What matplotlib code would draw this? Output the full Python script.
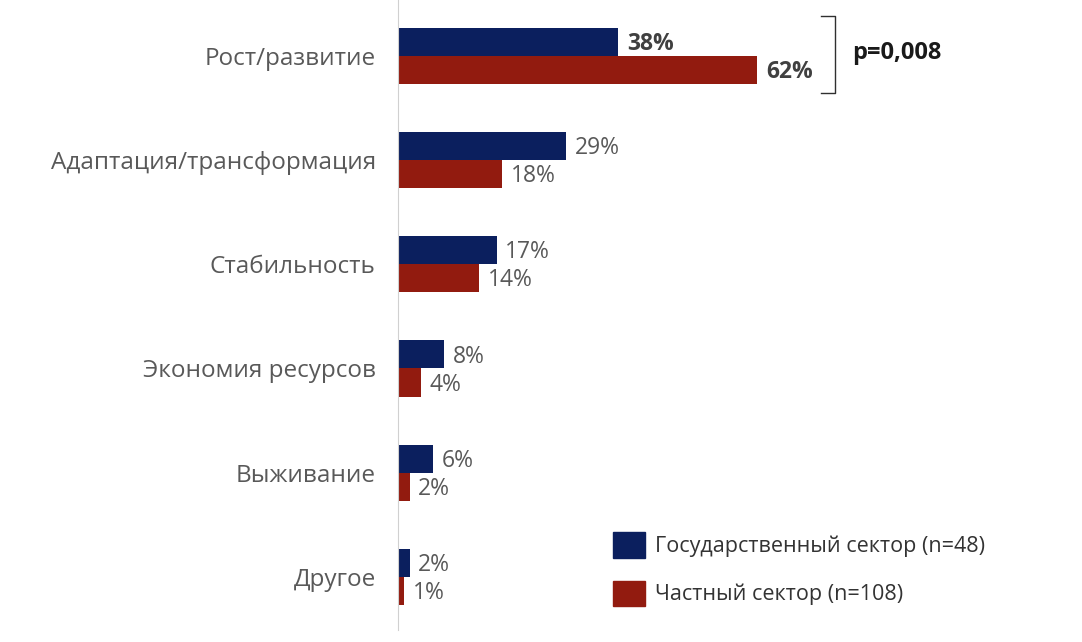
import matplotlib.pyplot as plt
from matplotlib.patches import Patch

plt.rcParams['font.family'] = ['Open Sans', 'DejaVu Sans']

categories = ['Рост/развитие', 'Адаптация/трансформация', 'Стабильность',
              'Экономия ресурсов', 'Выживание', 'Другое']
gov_values = [38, 29, 17, 8, 6, 2]
priv_values = [62, 18, 14, 4, 2, 1]
series_names = ['Государственный сектор (n=48)', 'Частный сектор (n=108)']
p_label = 'p=0,008'

navy = '#0b1f5e'
red = '#921b0f'
text_col = '#595959'

fig = plt.figure(figsize=(10.82, 6.42), dpi=100)
ax = fig.add_axes([398 / 1082, 12 / 642, 684 / 1082, 630 / 642])

h = 0.27
ys = list(range(len(categories)))
ax.barh([y - h / 2 for y in ys], gov_values, height=h, color=navy)
ax.barh([y + h / 2 for y in ys], priv_values, height=h, color=red)

for i, y in enumerate(ys):
    w = 'bold' if i == 0 else 'normal'
    c = '#404040' if i == 0 else text_col
    ax.text(gov_values[i] + 1.5, y - h / 2 + 0.02, f'{gov_values[i]}%', va='center',
            ha='left', fontsize=16.5, color=c, fontweight=w)
    ax.text(priv_values[i] + 1.5, y + h / 2 + 0.02, f'{priv_values[i]}%', va='center',
            ha='left', fontsize=16.5, color=c, fontweight=w)

ax.set_ylim(5.51, -0.537)
ax.set_xlim(0, 118)
ax.set_yticks(ys)
ax.set_yticklabels(categories, fontsize=17.5, color=text_col)
ax.tick_params(axis='y', length=0, pad=16)
ax.set_xticks([])
for s in ['top', 'right', 'bottom']:
    ax.spines[s].set_visible(False)
ax.spines['left'].set_color('#d0d0d0')

# significance bracket
bx = 75.4
ax.plot([bx - 2.5, bx, bx, bx - 2.5], [-0.385, -0.385, 0.355, 0.355], color='#303030', lw=1,
        clip_on=False)
ax.text(bx + 3.0, -0.03, p_label, va='center', ha='left', fontsize=17, fontweight='bold',
        color='#1a1a1a')

handles = [Patch(color=navy), Patch(color=red)]
ax.legend(handles, series_names, loc='upper left', bbox_to_anchor=(594 / 1082, 1 - 513 / 642),
          bbox_transform=fig.transFigure, frameon=False, fontsize=15.5, labelcolor='#333333',
          handlelength=1.45, handleheight=1.45, handletextpad=0.5, labelspacing=1.05)

fig.savefig('out.png', dpi=100)
